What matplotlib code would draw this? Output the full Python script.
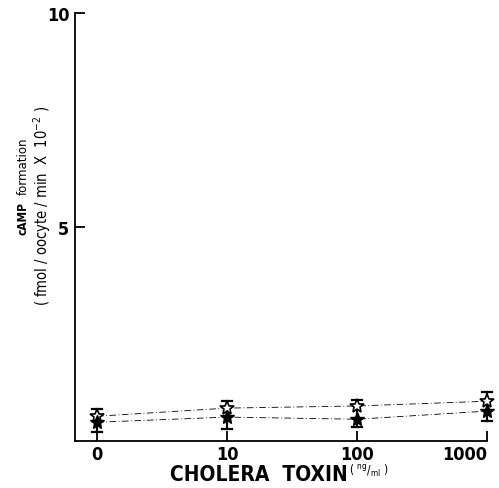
import matplotlib
matplotlib.use("Agg")
import matplotlib.pyplot as plt

# cholera toxin doses (ng/ml), plotted at equal spacing
doses = ["0", "10", "100", "1000"]
# open stars
open_vals = [0.58, 0.77, 0.82, 0.93]
# filled stars
filled_vals = [0.44, 0.56, 0.51, 0.70]
# error bar extents (shared bar per dose)
err_top = [0.75, 0.93, 0.96, 1.14]
err_bot = [0.21, 0.28, 0.33, 0.47]

plt.rcParams['font.family'] = ['DejaVu Sans']
plt.rcParams['font.stretch'] = 'condensed'

fig = plt.figure(figsize=(4.99, 4.89), dpi=100)
ax = fig.add_axes([0.150, 0.096, 0.826, 0.875])

xs = list(range(len(doses)))

# error bars
for x, lo, hi in zip(xs, err_bot, err_top):
    ax.plot([x, x], [lo, hi], color='black', lw=1.6, zorder=3, clip_on=False)
    ax.plot([x - 0.035, x + 0.035], [hi, hi], color='black', lw=1.6, zorder=3, clip_on=False)
    ax.plot([x - 0.035, x + 0.035], [lo, lo], color='black', lw=1.6, zorder=3, clip_on=False)

ax.plot(xs, open_vals, color='black', lw=0.6, ls=(0, (8, 3, 1, 3)), zorder=2)
ax.plot(xs, filled_vals, color='black', lw=0.6, ls=(0, (8, 3, 1, 3)), zorder=2)
ax.plot(xs, open_vals, ls='none', marker='*', ms=10, mfc='white', mec='black', mew=1.2,
        zorder=4, clip_on=False)
ax.plot(xs, filled_vals, ls='none', marker='*', ms=10, mfc='black', mec='black',
        zorder=5, clip_on=False)

ax.set_xlim(-0.17, 3.0)
ax.set_ylim(0, 10)
ax.set_xticks(xs)
ax.set_xticklabels(doses)
ax.set_yticks([5, 10])
ax.set_yticklabels(["5", "10"])
for s in ['top', 'right']:
    ax.spines[s].set_visible(False)
for s in ['left', 'bottom']:
    ax.spines[s].set_linewidth(1.3)
ax.tick_params(direction='in', length=7, width=1.3, labelsize=13)
ax.tick_params(axis='x', pad=3)
ax.tick_params(axis='y', pad=4)
for lab in ax.get_xticklabels() + ax.get_yticklabels():
    lab.set_fontweight('bold')
ax.get_xticklabels()[-1].set_ha('right')
ax.get_xticklabels()[-1].set_x(3.12)

fig.text(0.340, 0.029, "CHOLERA  TOXIN", fontsize=15, fontweight='bold',
         ha='left', va='center')
fig.text(0.700, 0.036, r"( $^{\mathregular{ng}}$/$_{\mathregular{ml}}$ )", fontsize=8.5,
         ha='left', va='center')

fig.text(0.046, 0.553, "cAMP", rotation=90, fontsize=8.5, fontweight='bold',
         ha='center', va='center')
fig.text(0.046, 0.660, "formation", rotation=90, fontsize=8.5, fontstretch='normal',
         ha='center', va='center')
fig.text(0.084, 0.579, r"( fmol / oocyte / min  X  10$^{\mathregular{-2}}$ )", rotation=90,
         fontsize=10.5, ha='center', va='center')

plt.savefig("out.png", dpi=100)
